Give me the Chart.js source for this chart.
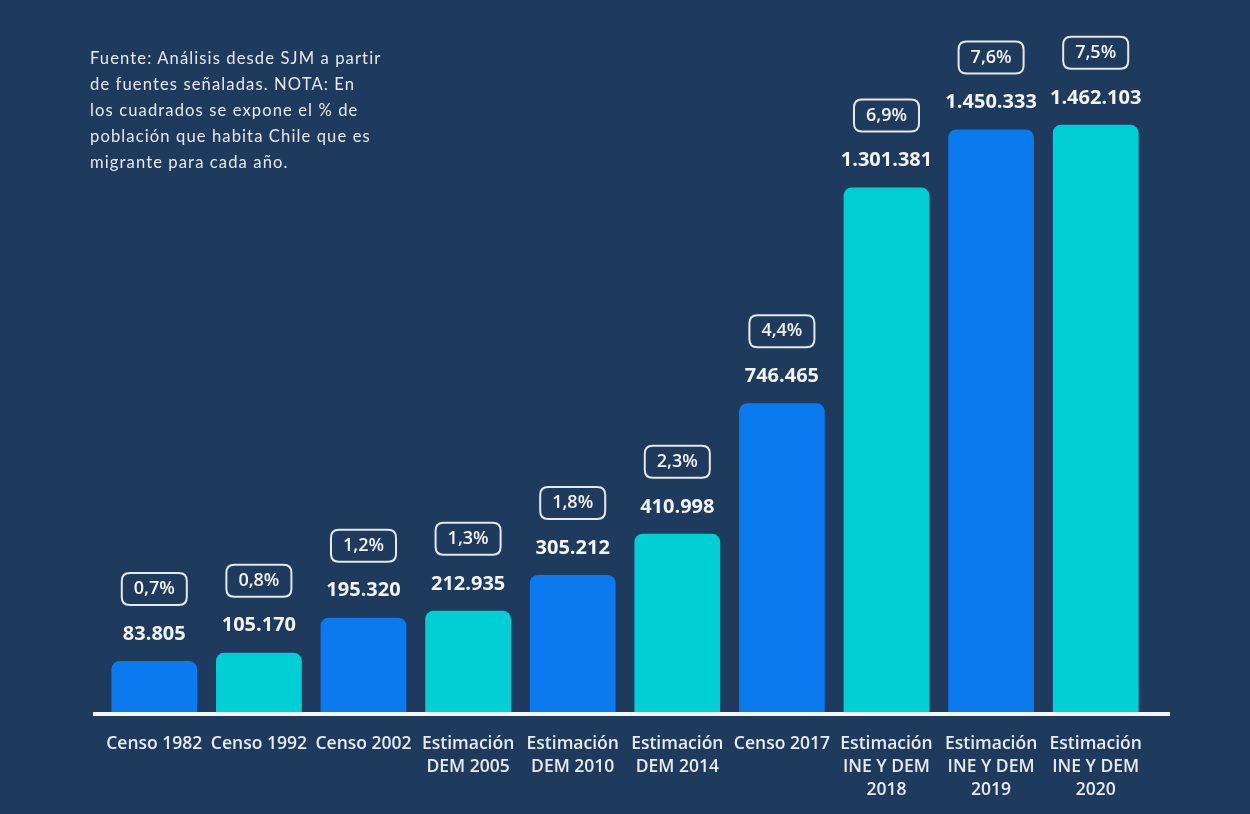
<!DOCTYPE html>
<html>
<head>
<meta charset="utf-8">
<script src="https://cdn.jsdelivr.net/npm/chart.js@4.4.1/dist/chart.umd.min.js"></script>
<style>
  html, body { margin: 0; padding: 0; background: #1e3a5c; }
  #wrap { position: relative; width: 1250px; height: 814px; }
  #nota {
    position: absolute; left: 90px; top: 45px; width: 292px;
    font-family: Lato, "Open Sans", sans-serif; font-size: 16.6px; line-height: 26px;
    letter-spacing: 1.1px; color: #e4eaf1;
  }
</style>
</head>
<body>
<div id="wrap">
  <canvas id="myChart" width="1250" height="814"></canvas>
  <div id="nota">Fuente: Análisis desde SJM a partir de fuentes señaladas. NOTA: En los cuadrados se expone el % de población que habita Chile que es migrante para cada año.</div>
</div>
<script>
// DATOS
const categorias = [
  "Censo 1982",
  "Censo 1992",
  "Censo 2002",
  ["Estimación", "DEM 2005"],
  ["Estimación", "DEM 2010"],
  ["Estimación", "DEM 2014"],
  "Censo 2017",
  ["Estimación", "INE Y DEM", "2018"],
  ["Estimación", "INE Y DEM", "2019"],
  ["Estimación", "INE Y DEM", "2020"],
];
const migrantes = [83805, 105170, 195320, 212935, 305212, 410998, 746465, 1301381, 1450333, 1462103];
const porcentajes = ["0,7%", "0,8%", "1,2%", "1,3%", "1,8%", "2,3%", "4,4%", "6,9%", "7,6%", "7,5%"];

const AZUL = "#0a7aee";
const CIAN = "#00cfd4";
const colores = migrantes.map((v, i) => (i % 2 === 0 ? AZUL : CIAN));

// formato 1.234.567
function puntos(n) {
  return n.toString().replace(/\B(?=(\d{3})+(?!\d))/g, ".");
}

function cajaRedonda(ctx, x, y, w, h, r) {
  ctx.beginPath();
  ctx.moveTo(x + r, y);
  ctx.lineTo(x + w - r, y);
  ctx.quadraticCurveTo(x + w, y, x + w, y + r);
  ctx.lineTo(x + w, y + h - r);
  ctx.quadraticCurveTo(x + w, y + h, x + w - r, y + h);
  ctx.lineTo(x + r, y + h);
  ctx.quadraticCurveTo(x, y + h, x, y + h - r);
  ctx.lineTo(x, y + r);
  ctx.quadraticCurveTo(x, y, x + r, y);
  ctx.closePath();
}

// etiquetas de valor, cuadros de % y linea base
const etiquetas = {
  id: "etiquetas",
  afterDatasetsDraw(chart) {
    const ctx = chart.ctx;
    const area = chart.chartArea;
    ctx.save();
    // linea base blanca
    ctx.strokeStyle = "#f3f5f8";
    ctx.lineWidth = 4;
    ctx.beginPath();
    ctx.moveTo(area.left - 9, area.bottom + 2);
    ctx.lineTo(area.right + 22, area.bottom + 2);
    ctx.stroke();

    const meta = chart.getDatasetMeta(0);
    meta.data.forEach((bar, i) => {
      const x = bar.x;
      const y = bar.y;
      ctx.fillStyle = "#f2f5f8";
      ctx.textAlign = "center";
      ctx.textBaseline = "middle";
      ctx.font = "bold 20px 'Open Sans'";
      ctx.fillText(puntos(migrantes[i]), x, y - 27);

      ctx.font = "600 18px 'Open Sans'";
      const w = ctx.measureText(porcentajes[i]).width + 24;
      const h = 32;
      ctx.strokeStyle = "#e3e9f0";
      ctx.lineWidth = 2;
      cajaRedonda(ctx, x - w / 2, y - 72 - h / 2, w, h, 8);
      ctx.stroke();
      ctx.fillText(porcentajes[i], x, y - 72);
    });
    ctx.restore();
  },
};

const cMig = document.getElementById("myChart");
new Chart(cMig, {
  type: "bar",
  data: {
    labels: categorias,
    datasets: [
      {
        data: migrantes,
        backgroundColor: colores,
        borderWidth: 0,
        borderRadius: { topLeft: 8, topRight: 8, bottomLeft: 0, bottomRight: 0 },
        borderSkipped: "bottom",
        base: -47000,
        barPercentage: 0.82,
        categoryPercentage: 1,
      },
    ],
  },
  plugins: [etiquetas],
  options: {
    responsive: false,
    animation: false,
    layout: {
      padding: { left: 102, right: 102, top: 0, bottom: 0 },
    },
    plugins: {
      legend: { display: false },
      tooltip: { enabled: false },
    },
    scales: {
      y: {
        display: false,
        min: -47000,
        max: 1783000,
      },
      x: {
        grid: { display: false },
        border: { display: false },
        afterFit: function (scale) {
          scale.height = 102;
        },
        ticks: {
          color: "#e6ecf2",
          padding: 13,
          maxRotation: 0,
          autoSkip: false,
          font: { family: "'Open Sans'", size: 17.5, weight: "600", lineHeight: 1.3 },
        },
      },
    },
  },
});
</script>
</body>
</html>
